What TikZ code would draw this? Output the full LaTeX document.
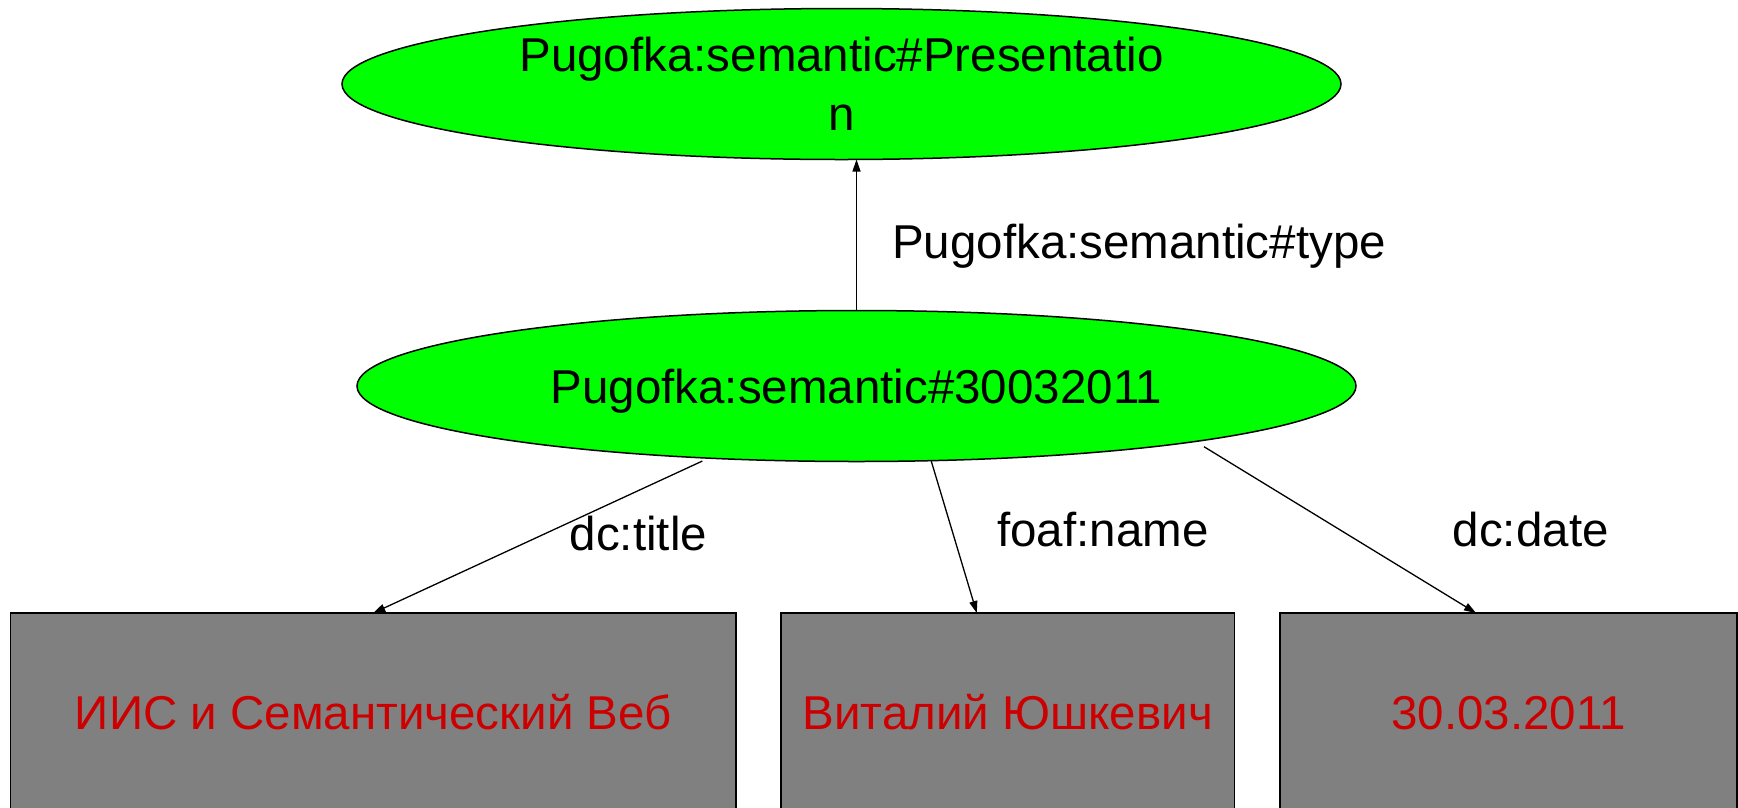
\documentclass[tikz,border=0pt]{standalone}
\usepackage{fontspec}
\setmainfont{Liberation Sans}
\usetikzlibrary{arrows.meta, shapes.geometric, calc}
\definecolor{resgreen}{RGB}{0,255,0}
\definecolor{litgray}{RGB}{128,128,128}
\definecolor{litred}{RGB}{204,0,0}
\tikzset{
  resnode/.style={
    ellipse, draw=black, fill=resgreen, line width=1.5pt, inner sep=0pt, outer sep=0pt,
    minimum width=999pt, minimum height=151pt, align=center
  },
  litnode/.style={
    rectangle, draw=black, fill=litgray, line width=1.5pt, inner sep=0pt, outer sep=0pt,
    minimum height=198pt, text=litred, text height=34pt, text depth=0pt
  },
  propedge/.style={-{Triangle[length=12pt, width=8pt]}, line width=1.3pt},
  proplabel/.style={anchor=base west, inner sep=0pt}
}

\begin{document}
\begin{tikzpicture}[x=1pt, y=-1pt, every node/.style={font=\fontsize{47.5pt}{59pt}\selectfont}]
    \useasboundingbox (0,0) rectangle (1738,807);
    \node[resnode] (cls) at (841.5,84) {Pugofka:semantic\#Presentatio\\n};
    \node[resnode, text height=34pt, text depth=0pt] (inst) at (856.5,386) {Pugofka:semantic\#30032011};
    \node[litnode, minimum width=725.5pt] (title) at (373.25,712) {ИИС и Семантический Веб};
    \node[litnode, minimum width=453.6pt] (author) at (1007.8,712) {Виталий Юшкевич};
    \node[litnode, minimum width=457pt] (date) at (1508.5,712) {30.03.2011};
    \draw[propedge] (inst.north) -- (inst.north |- cls.south);
    \draw[propedge, shorten <=7pt] (inst.206.8) -- (title.north);
    \draw[propedge] (inst.315) -- ([xshift=-31pt]author.north);
    \draw[propedge] ($(inst.center)+(347.5,60.7)$) -- ([xshift=-32.5pt]date.north);
    \node[proplabel] (typelbl) at (892,258) {Pugofka:semantic\#type};
    \node[proplabel] (titlelbl) at (569.6,550) {dc:title};
    \node[proplabel] (namelbl) at (997,546) {foaf:name};
    \node[proplabel] (datelbl) at (1452.6,546.7) {dc:date};
\end{tikzpicture}
\end{document}
